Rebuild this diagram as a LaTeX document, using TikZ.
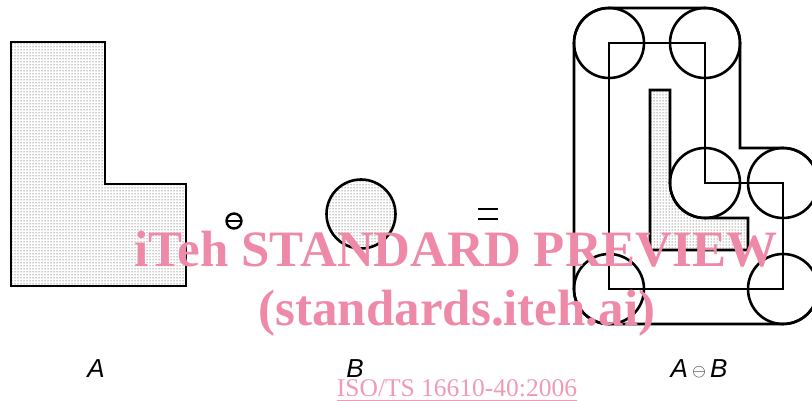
\documentclass[tikz,border=0pt]{standalone}
\usepackage{fontspec}
\setmainfont{Liberation Sans}
\newfontfamily\wmfont{Liberation Serif}
\usepackage{tikz}
\usetikzlibrary{patterns}
\definecolor{WmPink}{HTML}{EE8AA8}
\definecolor{IsoPink}{HTML}{F09AB4}
\begin{document}
\begin{tikzpicture}[
      x=1pt, y=-1pt,
      outline/.style={draw, line width=2.6pt},
      dotted fill/.style={pattern=dots, pattern color=black!85},
      lbl/.style={anchor=base, inner sep=0pt, font=\fontsize{26}{26}\selectfont\itshape},
      wm/.style={anchor=base, inner sep=0pt, text=WmPink, font=\wmfont\bfseries\fontsize{51}{51}\selectfont}
    ]
      \useasboundingbox (0,0) rectangle (812,401);
      % set A
      \draw[outline, dotted fill] (11,42) -- (105,42) -- (105,184) -- (186,184) -- (186,286) -- (11,286) -- cycle;
      % operator and structuring element B
      \draw[line width=2.4pt] (234,221) circle (7.5);
      \draw[line width=2.4pt] (226.5,221) -- (241.5,221);
      \draw[outline, dotted fill] (361,214) circle (34.5);
      \draw[line width=2.4pt] (478,209) -- (498,209) (478,219) -- (498,219);
      % result
      \draw[outline] (574,289) -- (574,43) arc (180:270:35) -- (705,8) arc (270:360:35)
        -- (740,148) -- (783,148) arc (270:360:35) -- (818,289) arc (0:90:35)
        -- (609,324) arc (90:180:35) -- cycle;
      \draw[outline] (609,43) -- (705,43) -- (705,183) -- (783,183) -- (783,289) -- (609,289) -- cycle;
      \foreach \cx/\cy in {609/43, 705/43, 705/183, 783/183, 609/289, 783/289}
        \draw[outline] (\cx,\cy) circle (35);
      \draw[outline, dotted fill] (650,90) -- (670,90) -- (670,183) arc (180:90:35)
        -- (748,218) -- (748,250) -- (650,250) -- cycle;
      % labels
      \node[lbl] (labA) at (96,377) {A};
      \node[lbl] (labB) at (355,377) {B};
      \node[lbl] (labAB) at (699,377) {A\,\raisebox{0.5pt}{\upshape\fontsize{17}{17}\selectfont$\ominus$}\,B};
      % watermark
      \node[wm] (wm1) at (456,266) {iTeh STANDARD PREVIEW};
      \node[wm] (wm2) at (457,325) {(standards.iteh.ai)};
      \node[anchor=base, inner sep=0pt, text=IsoPink, font=\wmfont\fontsize{25.5}{25.5}\selectfont] (iso) at (457,396) {ISO/TS 16610-40:2006};
      \draw[IsoPink, line width=1pt] ([yshift=-4pt]iso.base west) -- ([yshift=-4pt]iso.base east);
    \end{tikzpicture}
\end{document}
